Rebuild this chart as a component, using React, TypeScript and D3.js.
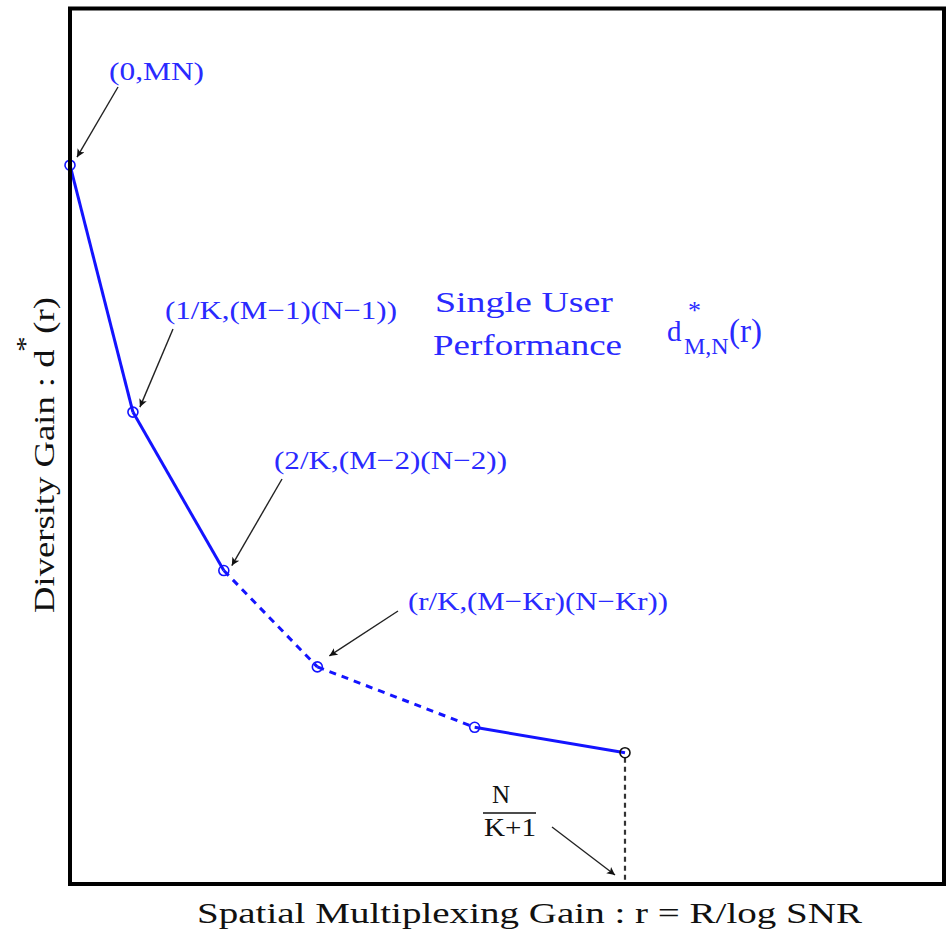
import React from "react";
import * as d3 from "d3";

// ---- data (in arbitrary axis units 0..100) ----
const rValues = [0, 7.2, 17.6, 28.3, 46.3, 63.5];
const dValues = [82.1, 53.9, 35.8, 24.8, 17.9, 15.0];
const segmentDashed = [false, false, true, true, false];
const pointLabels = [
  "(0,MN)",
  "(1/K,(M\u22121)(N\u22121))",
  "(2/K,(M\u22122)(N\u22122))",
  "(r/K,(M\u2212Kr)(N\u2212Kr))",
];
const xAxisLabel = "Spatial Multiplexing Gain : r = R/log SNR";
const titleLines = ["Single User", "Performance"];

// ---- layout ----
const W = 950;
const H = 931;
const frame = { left: 70, top: 8.5, right: 944, bottom: 884 };
const BLUE = "#1414ff";
const TEXT_BLUE = "#2a2aff";
const FONT = "'Times New Roman', Times, Tinos, 'Liberation Serif', 'Nimbus Roman', serif";

// label layout: text position/width, arrow tail, tip offset from the point
const labelLayout = [
  { x: 109, y: 80, w: 95, tail: [118, 87], tipOff: [7, -8] },
  { x: 165, y: 319, w: 232, tail: [173, 329], tipOff: [7, -5] },
  { x: 274, y: 469, w: 233, tail: [282, 479], tipOff: [8, -5] },
  { x: 408, y: 610, w: 260, tail: [398, 611], tipOff: [12, -11] },
];

const T = (props: any) => (
  <text {...props} style={{ fontFamily: FONT, ...(props.style || {}) }} />
);

export default function App() {
  const x = d3.scaleLinear().domain([0, 100]).range([frame.left, frame.right]);
  const y = d3.scaleLinear().domain([0, 100]).range([frame.bottom, frame.top]);
  const pts = rValues.map((r, i) => [x(r), y(dValues[i])] as [number, number]);
  const line = d3.line<[number, number]>();
  const last = pts[pts.length - 1];

  return (
    <svg
      width={W}
      height={H}
      style={{ position: "absolute", left: 0, top: 0, background: "#fff", fontFamily: FONT }}
    >
      <defs>
        <marker
          id="ah"
          viewBox="0 0 10 10"
          refX="10"
          refY="5"
          markerWidth="12"
          markerHeight="8"
          markerUnits="userSpaceOnUse"
          orient="auto"
        >
          <path d="M0,0 L10,5 L0,10 L2.5,5 Z" fill="#111" />
        </marker>
      </defs>

      {/* vertical dashed drop line */}
      <line
        x1={last[0]}
        y1={last[1] + 5}
        x2={last[0]}
        y2={frame.bottom}
        stroke="#333"
        strokeWidth={2.2}
        strokeDasharray="5,4"
      />

      {/* curve segments */}
      {segmentDashed.map((dashed, i) => (
        <path
          key={i}
          d={line([pts[i], pts[i + 1]]) || ""}
          stroke={BLUE}
          strokeWidth={3}
          fill="none"
          strokeDasharray={dashed ? "7,6" : undefined}
        />
      ))}

      {/* point markers */}
      {pts.map((p, i) => (
        <circle
          key={i}
          cx={p[0]}
          cy={p[1]}
          r={5}
          fill="none"
          stroke={i === pts.length - 1 ? "#111" : BLUE}
          strokeWidth={1.6}
        />
      ))}

      {/* labels and arrows */}
      {pointLabels.map((t, i) => {
        const L = labelLayout[i];
        const tip = [pts[i][0] + L.tipOff[0], pts[i][1] + L.tipOff[1]];
        return (
          <g key={i}>
            <T
              x={L.x}
              y={L.y}
              fontSize={26}
              fill={TEXT_BLUE}
              textLength={L.w}
              lengthAdjust="spacingAndGlyphs"
            >
              {t}
            </T>
            <line
              x1={L.tail[0]}
              y1={L.tail[1]}
              x2={tip[0]}
              y2={tip[1]}
              stroke="#222"
              strokeWidth={1.4}
              markerEnd="url(#ah)"
            />
          </g>
        );
      })}

      {/* Single User Performance */}
      <T x={435} y={312} fontSize={30} fill={TEXT_BLUE} textLength={178} lengthAdjust="spacingAndGlyphs">
        {titleLines[0]}
      </T>
      <T x={433} y={355} fontSize={30} fill={TEXT_BLUE} textLength={189} lengthAdjust="spacingAndGlyphs">
        {titleLines[1]}
      </T>
      <T x={667} y={341} fontSize={29} fill={TEXT_BLUE}>
        d
        <tspan x={688} y={319} fontSize={26}>*</tspan>
        <tspan x={684} y={354} fontSize={24}>M,N</tspan>
        <tspan x={729} y={342} fontSize={33}>(r)</tspan>
      </T>

      {/* N/(K+1) */}
      <T x={501} y={803} fontSize={25} fill="#111" textAnchor="middle">N</T>
      <line x1={483} y1={813} x2={536} y2={813} stroke="#111" strokeWidth={1.6} />
      <T x={510} y={836} fontSize={25} fill="#111" textAnchor="middle" textLength={52} lengthAdjust="spacingAndGlyphs">
        K+1
      </T>
      <line
        x1={552}
        y1={827}
        x2={615}
        y2={875}
        stroke="#222"
        strokeWidth={1.4}
        markerEnd="url(#ah)"
      />

      {/* frame */}
      <rect
        x={frame.left}
        y={frame.top}
        width={frame.right - frame.left}
        height={frame.bottom - frame.top}
        fill="none"
        stroke="#000"
        strokeWidth={4}
      />

      {/* axis labels */}
      <T
        x={197}
        y={923}
        fontSize={30}
        fill="#111"
        textLength={665}
        lengthAdjust="spacingAndGlyphs"
      >
        {xAxisLabel}
      </T>
      <g transform="translate(54,613) rotate(-90)">
        <T x={0} y={0} fontSize={30} fill="#111" textLength={316} lengthAdjust="spacingAndGlyphs">
          <tspan>Diversity Gain : d</tspan>
          <tspan dx={-2} dy={-20} fontSize={26}>*</tspan>
          <tspan dx={2} dy={20}>(r)</tspan>
        </T>
      </g>
    </svg>
  );
}
